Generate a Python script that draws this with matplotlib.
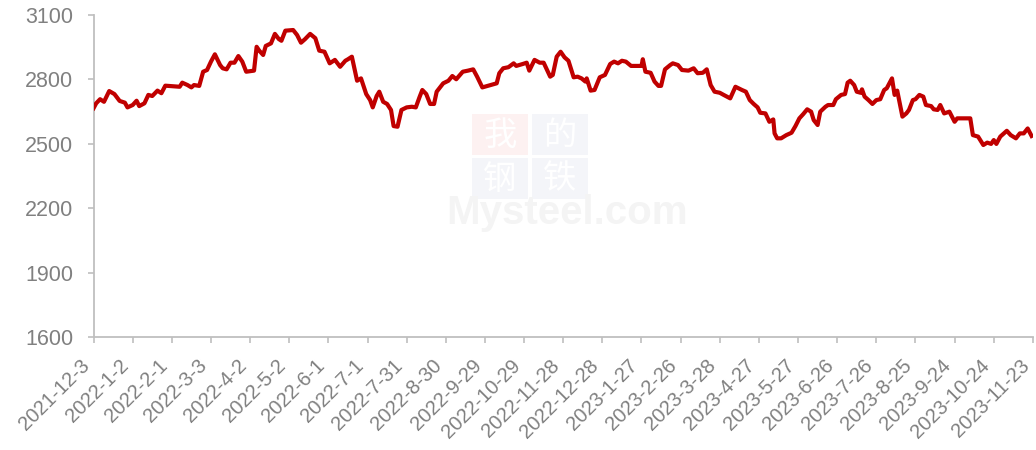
import pandas as pd
import matplotlib
matplotlib.use("Agg")
import matplotlib.pyplot as plt
from matplotlib.patches import Rectangle

# días desde 2021-12-3 y precio
dias = [0, 2, 5, 8, 12, 16, 20, 24, 26, 30, 33, 35, 39, 42, 45, 49, 52, 55, 66, 68,
        72, 75, 77, 81, 84, 87, 90, 93, 97, 99, 102, 105, 108, 111, 114, 117, 123, 125, 127, 130,
        132, 136, 139, 142, 144, 147, 153, 156, 159, 162, 166, 170, 173, 177, 181, 185, 189, 193, 195, 198,
        202, 205, 209, 212, 214, 217, 219, 222, 225, 228, 230, 233, 236, 240, 244, 247, 250, 252, 255, 258,
        261, 263, 268, 272, 275, 278, 283, 287, 291, 294, 298, 309, 311, 314, 318, 322, 324, 329, 332, 334,
        338, 342, 345, 350, 352, 355, 358, 361, 364, 368, 371, 374, 377, 378, 381, 384, 388, 392, 396, 399,
        402, 405, 408, 412, 420, 421, 423, 427, 430, 433, 435, 438, 442, 444, 448, 451, 456, 460, 463, 467,
        470, 473, 476, 480, 483, 488, 492, 497, 500, 503, 506, 509, 511, 515, 518, 521, 522, 524, 527, 531,
        535, 538, 541, 544, 547, 550, 552, 555, 557, 561, 563, 567, 569, 573, 576, 578, 580, 583, 585, 588,
        589, 591, 594, 597, 600, 603, 606, 608, 610, 612, 614, 616, 620, 623, 625, 628, 630, 633, 636, 638,
        642, 644, 647, 649, 652, 656, 660, 662, 672, 674, 678, 682, 685, 688, 690, 692, 695, 700, 703, 707,
        710, 713, 716, 719]
precio = [2666, 2689, 2708, 2696, 2746, 2732, 2700, 2692, 2670, 2681, 2701, 2676, 2689, 2728, 2723, 2748, 2736, 2771, 2766, 2785,
          2774, 2763, 2774, 2770, 2836, 2844, 2883, 2917, 2867, 2852, 2847, 2878, 2878, 2909, 2883, 2836, 2841, 2952, 2934, 2914,
          2956, 2968, 3012, 2988, 2980, 3027, 3030, 3007, 2971, 2987, 3012, 2992, 2934, 2929, 2875, 2891, 2859, 2887, 2894, 2906,
          2794, 2805, 2732, 2704, 2670, 2723, 2743, 2696, 2686, 2658, 2583, 2580, 2658, 2670, 2673, 2670, 2720, 2751, 2732, 2686,
          2686, 2743, 2782, 2794, 2816, 2801, 2836, 2841, 2847, 2813, 2763, 2782, 2829, 2852, 2857, 2875, 2863, 2872, 2878, 2841,
          2891, 2878, 2878, 2813, 2821, 2906, 2929, 2903, 2887, 2810, 2813, 2805, 2790, 2805, 2748, 2751, 2810, 2821, 2872, 2883,
          2875, 2887, 2883, 2863, 2863, 2894, 2836, 2831, 2790, 2770, 2770, 2847, 2867, 2875, 2867, 2844, 2841, 2852, 2829, 2831,
          2847, 2774, 2743, 2738, 2728, 2712, 2766, 2751, 2743, 2704, 2686, 2670, 2645, 2642, 2603, 2614, 2549, 2526, 2526, 2541,
          2552, 2583, 2619, 2639, 2661, 2650, 2611, 2588, 2650, 2673, 2681, 2681, 2708, 2728, 2732, 2785, 2794, 2774, 2743, 2738,
          2754, 2720, 2704, 2686, 2704, 2708, 2751, 2759, 2782, 2805, 2728, 2748, 2627, 2642, 2658, 2704, 2708, 2728, 2720, 2681,
          2676, 2661, 2658, 2681, 2642, 2650, 2603, 2619, 2619, 2541, 2534, 2495, 2506, 2500, 2518, 2500, 2534, 2561, 2541, 2526,
          2549, 2549, 2572, 2537]

etiquetas_x = ['2021-12-3', '2022-1-2', '2022-2-1', '2022-3-3', '2022-4-2', '2022-5-2', '2022-6-1',
               '2022-7-1', '2022-7-31', '2022-8-30', '2022-9-29', '2022-10-29', '2022-11-28',
               '2022-12-28', '2023-1-27', '2023-2-26', '2023-3-28', '2023-4-27', '2023-5-27',
               '2023-6-26', '2023-7-26', '2023-8-25', '2023-9-24', '2023-10-24', '2023-11-23']
ticks_y = [1600, 1900, 2200, 2500, 2800, 3100]

fecha0 = pd.Timestamp('2021-12-03')
fechas = fecha0 + pd.to_timedelta(dias, unit='D')
fechas_ticks = pd.to_datetime(etiquetas_x)

gris = '#808080'
gris_eje = '#BFBFBF'

fig = plt.figure(figsize=(10.36, 4.5), dpi=100)
ax = fig.add_axes([0.0903, 0.2504, 0.9067, 0.7163])
ax.set_facecolor('none')

# marca de agua (我的钢铁 Mysteel.com), muy tenue
W, H = 1036, 450
cajas = [('我', 472, 114, '#FDF1F1'), ('的', 532, 114, '#F4F5F9'),
         ('钢', 472, 158, '#F4F5F9'), ('铁', 532, 158, '#F4F5F9')]
for ch, px, py, col in cajas:
    fig.add_artist(Rectangle((px / W, 1 - (py + 41) / H), 56 / W, 41 / H,
                             transform=fig.transFigure, facecolor=col,
                             edgecolor='none', zorder=-2))
    fig.text((px + 28) / W, 1 - (py + 21) / H, ch, ha='center', va='center',
             fontsize=24, color='white', family=['Noto Sans CJK SC', 'DejaVu Sans'],
             zorder=-1)
fig.text(567 / W, 1 - 224 / H, 'Mysteel.com', ha='center', va='baseline',
         fontsize=29, fontweight='bold', color='#F4F4F4',
         family='Liberation Sans', zorder=-1)

ax.plot(fechas, precio, color='#C00000', linewidth=3.0,
        solid_joinstyle='round', zorder=3)

ax.set_xlim(fecha0, fechas_ticks[-1])
ax.set_ylim(1600, 3100)
ax.set_yticks(ticks_y)
ax.set_yticklabels([str(v) for v in ticks_y], fontsize=15.5, color=gris,
                   family='Liberation Sans')
ax.set_xticks(fechas_ticks)
ax.set_xticklabels(etiquetas_x, rotation=45, ha='right', fontsize=14.5,
                   color=gris, family='Liberation Sans')

for lado in ['top', 'right']:
    ax.spines[lado].set_visible(False)
for lado in ['left', 'bottom']:
    ax.spines[lado].set_color(gris_eje)
    ax.spines[lado].set_linewidth(1.3)

ax.tick_params(axis='both', direction='out', length=4.5, width=1.2, color=gris_eje)
ax.tick_params(axis='y', pad=10)
ax.tick_params(axis='x', pad=9)

plt.savefig('out.png', dpi=100)
